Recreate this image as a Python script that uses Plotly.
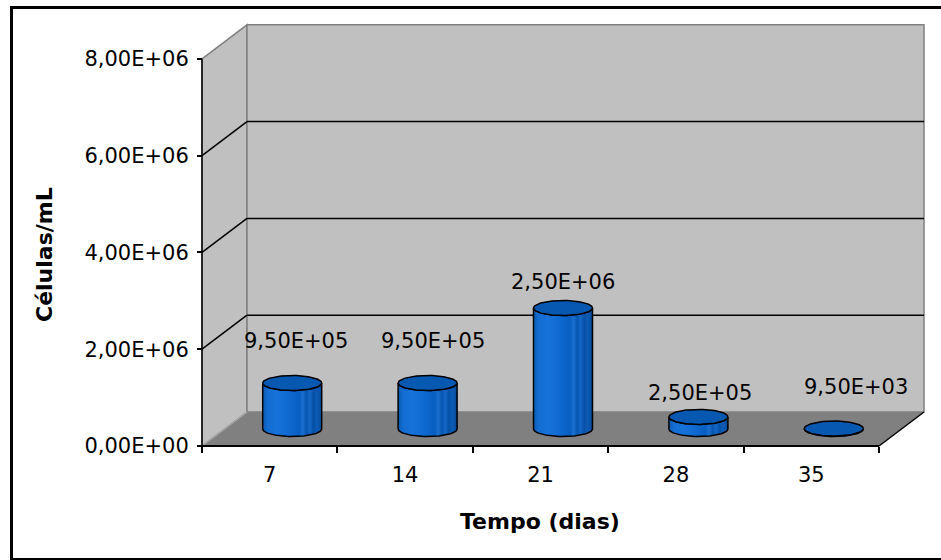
import numpy as np
import plotly.graph_objects as go

# ---- data -------------------------------------------------------------
dias = ["7", "14", "21", "28", "35"]
celulas = [9.5e5, 9.5e5, 2.5e6, 2.5e5, 9.5e3]
y_tick_vals = [0, 2e6, 4e6, 6e6, 8e6]
y_tick_text = ["0,00E+00", "2,00E+06", "4,00E+06", "6,00E+06", "8,00E+06"]
y_max = 8e6


def fmt_sci(v):
    """Scientific notation with a decimal comma, e.g. 9,50E+05."""
    return f"{v:.2E}".replace(".", ",")


# ---- page / projection geometry (pixels) -------------------------------
W, H = 941, 560
ORIGIN_PX = (202, 446)      # front-left corner of the floor
CAT_PX = 135.4              # width of one category on the front plane
VAL_PX = 48.4e-6            # pixels per cell/mL on the front plane
DEPTH_PX = (45, 34)         # oblique offset from front plane to back wall
PLOT_BOX = (150, 935, 12, 472)  # left, right, top, bottom of the drawing area
CYL_RX_PX, CYL_RY_PX = 29.5, 7.5
# label offsets (px) from the top centre of each cylinder
label_shift = [(4, 42), (5, 42), (0, 26), (2, 24), (22, 42)]

ox, oy = ORIGIN_PX
left, right, top, bottom = PLOT_BOX
x_range = [(left - ox) / CAT_PX, (right - ox) / CAT_PX]
y_range = [(oy - bottom) / VAL_PX, (oy - top) / VAL_PX]
DX = DEPTH_PX[0] / CAT_PX
DY = DEPTH_PX[1] / VAL_PX
RX = CYL_RX_PX / CAT_PX
RY = CYL_RY_PX / VAL_PX
n = len(dias)

WALL = "#C0C0C0"
FLOOR = "#808080"
EDGE = "#808080"
FONT = "DejaVu Sans"


def poly(pts):
    return "M " + " L ".join(f"{x},{y}" for x, y in pts) + " Z"


shapes = []
# side wall (left)
shapes.append(dict(type="path", path=poly([(0, 0), (0, y_max), (DX, y_max + DY), (DX, DY)]),
                   fillcolor=WALL, line=dict(color=EDGE, width=1.5), layer="below"))
# back wall
shapes.append(dict(type="path", path=poly([(DX, DY), (DX, y_max + DY), (n + DX, y_max + DY), (n + DX, DY)]),
                   fillcolor=WALL, line=dict(color=EDGE, width=1.5), layer="below"))
# floor
shapes.append(dict(type="path", path=poly([(0, 0), (n, 0), (n + DX, DY), (DX, DY)]),
                   fillcolor=FLOOR, line=dict(width=0), layer="below"))
shapes.append(dict(type="line", x0=0, y0=0, x1=DX, y1=DY,
                   line=dict(color="#A8A8A8", width=1.5), layer="below"))
# gridlines on the side and back walls
for v in y_tick_vals[1:-1]:
    shapes.append(dict(type="line", x0=0, y0=v, x1=DX, y1=v + DY,
                       line=dict(color="black", width=1.5), layer="below"))
    shapes.append(dict(type="line", x0=DX, y0=v + DY, x1=n + DX, y1=v + DY,
                       line=dict(color="black", width=1.5), layer="below"))
# front axis edges
shapes.append(dict(type="line", x0=0, y0=0, x1=0, y1=y_max,
                   line=dict(color="black", width=1.5), layer="below"))
shapes.append(dict(type="line", x0=0, y0=0, x1=n, y1=0,
                   line=dict(color="black", width=2), layer="below"))
shapes.append(dict(type="line", x0=n, y0=0, x1=n + DX, y1=DY,
                   line=dict(color="black", width=1.5), layer="below"))
# chart border
shapes.append(dict(type="rect", xref="paper", yref="paper",
                   x0=11.5 / W, x1=1.02, y0=(H - 559.5) / H, y1=1 - 7.5 / H,
                   line=dict(color="black", width=3), fillcolor="rgba(0,0,0,0)"))

fig = go.Figure()

body_scale = [
    [0.0, "#0A58B0"], [0.08, "#136CD0"], [0.25, "#1672DA"], [0.5, "#0C66CC"],
    [0.62, "#085EC0"], [0.68, "#1A70D0"], [0.74, "#0656B0"], [0.8, "#1466C6"],
    [0.86, "#0550A6"], [0.92, "#0E5CB6"], [1.0, "#044896"],
]

t_front = np.linspace(np.pi, 2 * np.pi, 60)
t_full = np.linspace(0, 2 * np.pi, 120)
annotations = []
for i, v in enumerate(celulas):
    cx = i + 0.5 + DX / 2
    base = DY / 2
    top_y = base + v
    bx = np.concatenate([cx + RX * np.cos(t_front), cx + RX * np.cos(t_front[::-1])])
    by = np.concatenate([base + RY * np.sin(t_front), top_y + RY * np.sin(t_front[::-1])])
    fig.add_trace(go.Scatter(
        x=np.append(bx, bx[0]), y=np.append(by, by[0]), mode="lines", fill="toself",
        fillgradient=dict(type="horizontal", colorscale=body_scale),
        line=dict(color="black", width=1.5), hoverinfo="skip", showlegend=False))
    fig.add_trace(go.Scatter(
        x=cx + RX * np.cos(t_full), y=top_y + RY * np.sin(t_full), mode="lines",
        fill="toself", fillcolor="#0758B0",
        line=dict(color="black", width=1.5), hoverinfo="skip", showlegend=False))
    sx, sy = label_shift[i]
    annotations.append(dict(x=cx, y=top_y, xref="x", yref="y", text=fmt_sci(v),
                            showarrow=False, xshift=sx, yshift=sy,
                            xanchor="center", yanchor="middle",
                            font=dict(family=FONT, size=21, color="black")))

annotations.append(dict(x=540 / W, y=1 - 521 / H, xref="paper", yref="paper",
                        xanchor="center", yanchor="middle",
                        text="<b>Tempo (dias)</b>", showarrow=False,
                        font=dict(family=FONT, size=22, color="black")))
annotations.append(dict(x=45 / W, y=1 - 255 / H, xref="paper", yref="paper",
                        xanchor="center", yanchor="middle",
                        text="<b>Células/mL</b>", showarrow=False, textangle=-90,
                        font=dict(family=FONT, size=22, color="black")))

fig.update_layout(
    width=W, height=H, margin=dict(l=0, r=0, t=0, b=0),
    paper_bgcolor="white", plot_bgcolor="rgba(0,0,0,0)",
    shapes=shapes, annotations=annotations, showlegend=False,
    xaxis=dict(domain=[left / W, right / W], range=x_range, anchor="free",
               position=(H - oy) / H, showgrid=False, zeroline=False, showline=False,
               tickvals=[i + 0.5 for i in range(n)], ticktext=dias, ticks="",
               ticklabelstandoff=14,
               tickfont=dict(family=FONT, size=21, color="black"),
               minor=dict(tickvals=list(range(n + 1)), ticks="outside", ticklen=6,
                          tickwidth=1.5, tickcolor="black", showgrid=False)),
    yaxis=dict(domain=[(H - bottom) / H, (H - top) / H], range=y_range, anchor="free",
               position=ox / W, showgrid=False, zeroline=False, showline=False,
               tickvals=y_tick_vals, ticktext=y_tick_text, ticks="outside",
               ticklen=5, tickwidth=1.5, tickcolor="black", ticklabelstandoff=4,
               tickfont=dict(family=FONT, size=21, color="black")),
)

fig.write_html("out.html")
